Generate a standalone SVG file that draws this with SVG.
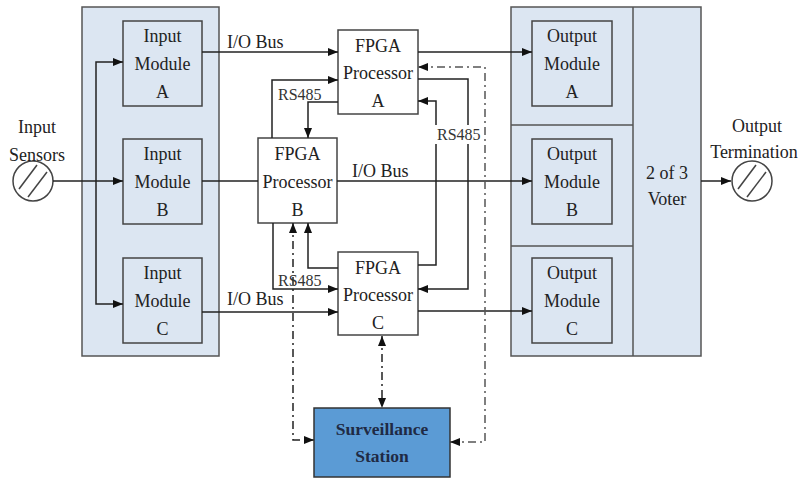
<svg xmlns="http://www.w3.org/2000/svg" width="800" height="479" viewBox="0 0 800 479">
<defs>
<marker id="arr" viewBox="0 0 10 8" refX="10" refY="4" markerWidth="10" markerHeight="8" markerUnits="userSpaceOnUse" orient="auto-start-reverse">
<path d="M0,0 L10,4 L0,8 z" fill="#111"/>
</marker>
<style>
.panel{fill:#dce6f2;stroke:#555;stroke-width:1.5}
.mod{fill:#dce6f2;stroke:#444;stroke-width:1.5}
.fpga{fill:#fff;stroke:#444;stroke-width:1.5}
.t{font-family:"Liberation Serif","Times New Roman",serif;font-size:18px;fill:#222;text-anchor:middle}
.lbl{font-family:"Liberation Serif","Times New Roman",serif;font-size:18px;fill:#222}
.rs{font-family:"Liberation Serif","Times New Roman",serif;font-size:16px;fill:#333}
.st{font-family:"Liberation Serif","Times New Roman",serif;font-size:17.5px;font-weight:bold;fill:#1f2a44;text-anchor:middle}
.c{fill:none;stroke:#222;stroke-width:1.5}
.a{marker-end:url(#arr)}
.dd{fill:none;stroke:#222;stroke-width:1.5;stroke-dasharray:8 4 2 4;marker-start:url(#arr);marker-end:url(#arr)}
.term{fill:#fff;stroke:#444;stroke-width:1.5}
</style>
</defs>
<rect width="800" height="479" fill="#fff"/>

<g id="input-panel">
<rect class="panel" x="82" y="7" width="137" height="349"/>
</g>
<g id="output-panel">
<rect class="panel" x="511" y="7" width="190" height="349"/>
<line x1="633" y1="7" x2="633" y2="356" stroke="#555" stroke-width="1.5"/>
<line x1="511" y1="125" x2="633" y2="125" stroke="#555" stroke-width="1.5"/>
<line x1="511" y1="246" x2="633" y2="246" stroke="#555" stroke-width="1.5"/>
</g>
<g id="voter">
<text class="t" x="667" y="179">2 of 3</text>
<text class="t" x="667" y="205">Voter</text>
</g>

<g id="input-sensors">
<circle class="term" cx="33" cy="181" r="20"/>
<line x1="19" y1="189" x2="37" y2="165" stroke="#444" stroke-width="1.5"/>
<line x1="28" y1="197" x2="47" y2="172" stroke="#444" stroke-width="1.5"/>
<text class="t" x="37" y="133">Input</text>
<text class="t" x="37" y="161">Sensors</text>
</g>
<g id="output-termination">
<circle class="term" cx="752" cy="181" r="20"/>
<line x1="738" y1="189" x2="756" y2="165" stroke="#444" stroke-width="1.5"/>
<line x1="747" y1="197" x2="766" y2="172" stroke="#444" stroke-width="1.5"/>
<text class="t" x="757" y="132">Output</text>
<text class="t" x="754" y="158">Termination</text>
</g>

<g id="input-module-a">
<rect class="mod" x="123" y="21" width="79" height="85"/>
<text class="t" x="162.5" y="42">Input</text><text class="t" x="162.5" y="70">Module</text><text class="t" x="162.5" y="98">A</text>
</g>
<g id="input-module-b">
<rect class="mod" x="123" y="139" width="79" height="85"/>
<text class="t" x="162.5" y="160">Input</text><text class="t" x="162.5" y="188">Module</text><text class="t" x="162.5" y="216">B</text>
</g>
<g id="input-module-c">
<rect class="mod" x="123" y="258" width="79" height="85"/>
<text class="t" x="162.5" y="279">Input</text><text class="t" x="162.5" y="307">Module</text><text class="t" x="162.5" y="335">C</text>
</g>

<g id="output-module-a">
<rect class="mod" x="532" y="21" width="80" height="85"/>
<text class="t" x="572" y="42">Output</text><text class="t" x="572" y="70">Module</text><text class="t" x="572" y="98">A</text>
</g>
<g id="output-module-b">
<rect class="mod" x="532" y="139" width="80" height="85"/>
<text class="t" x="572" y="160">Output</text><text class="t" x="572" y="188">Module</text><text class="t" x="572" y="216">B</text>
</g>
<g id="output-module-c">
<rect class="mod" x="532" y="258" width="80" height="85"/>
<text class="t" x="572" y="279">Output</text><text class="t" x="572" y="307">Module</text><text class="t" x="572" y="335">C</text>
</g>

<g id="fpga-a">
<rect class="fpga" x="338" y="30" width="80" height="84"/>
<text class="t" x="378" y="52">FPGA</text><text class="t" x="378" y="79">Processor</text><text class="t" x="378" y="107">A</text>
</g>
<g id="fpga-b">
<rect class="fpga" x="258" y="138" width="79" height="85"/>
<text class="t" x="297.5" y="160">FPGA</text><text class="t" x="297.5" y="188">Processor</text><text class="t" x="297.5" y="216">B</text>
</g>
<g id="fpga-c">
<rect class="fpga" x="338" y="252" width="80" height="83"/>
<text class="t" x="378" y="274">FPGA</text><text class="t" x="378" y="301">Processor</text><text class="t" x="378" y="329">C</text>
</g>

<g id="connectors">
<path class="c a" d="M53,181 H123"/>
<path class="c a" d="M96,181 V62 H123"/>
<path class="c a" d="M96,181 V304 H123"/>
<path class="c a" d="M202,52 H338"/>
<path class="c a" d="M418,52 H532"/>
<path class="c a" d="M272,138 V80 H338"/>
<path class="c a" d="M338,102 H308 V138"/>
<path class="c a" d="M418,79 H468 V289 H418"/>
<path class="c a" d="M418,265 H436 V101 H418"/>
<path class="c" d="M202,181 H258"/>
<path class="c a" d="M337,181 H532"/>
<path class="c a" d="M273,223 V289 H338"/>
<path class="c a" d="M338,268 H308 V223"/>
<path class="c a" d="M202,312 H338"/>
<path class="c a" d="M418,311 H532"/>
<path class="c a" d="M701,181 H731"/>
<path class="dd" d="M450,442 H485 V67 H418" style="stroke:#555"/>
<path class="dd" d="M382,336 V408"/>
<path class="dd" d="M293,223 V440 H314"/>
<rect x="432" y="125" width="50" height="19" fill="#fff"/>
<text class="rs" x="437" y="140">RS485</text>
<text class="rs" x="278" y="100">RS485</text>
<text class="rs" x="278" y="286">RS485</text>
<text class="lbl" x="227" y="48">I/O Bus</text>
<text class="lbl" x="352" y="177">I/O Bus</text>
<text class="lbl" x="227" y="305">I/O Bus</text>
</g>

<g id="surveillance-station">
<rect x="314" y="408" width="136" height="69" fill="#5b9bd5" stroke="#333" stroke-width="1.5"/>
<text class="st" x="382" y="435">Surveillance</text>
<text class="st" x="382" y="462">Station</text>
</g>
</svg>
